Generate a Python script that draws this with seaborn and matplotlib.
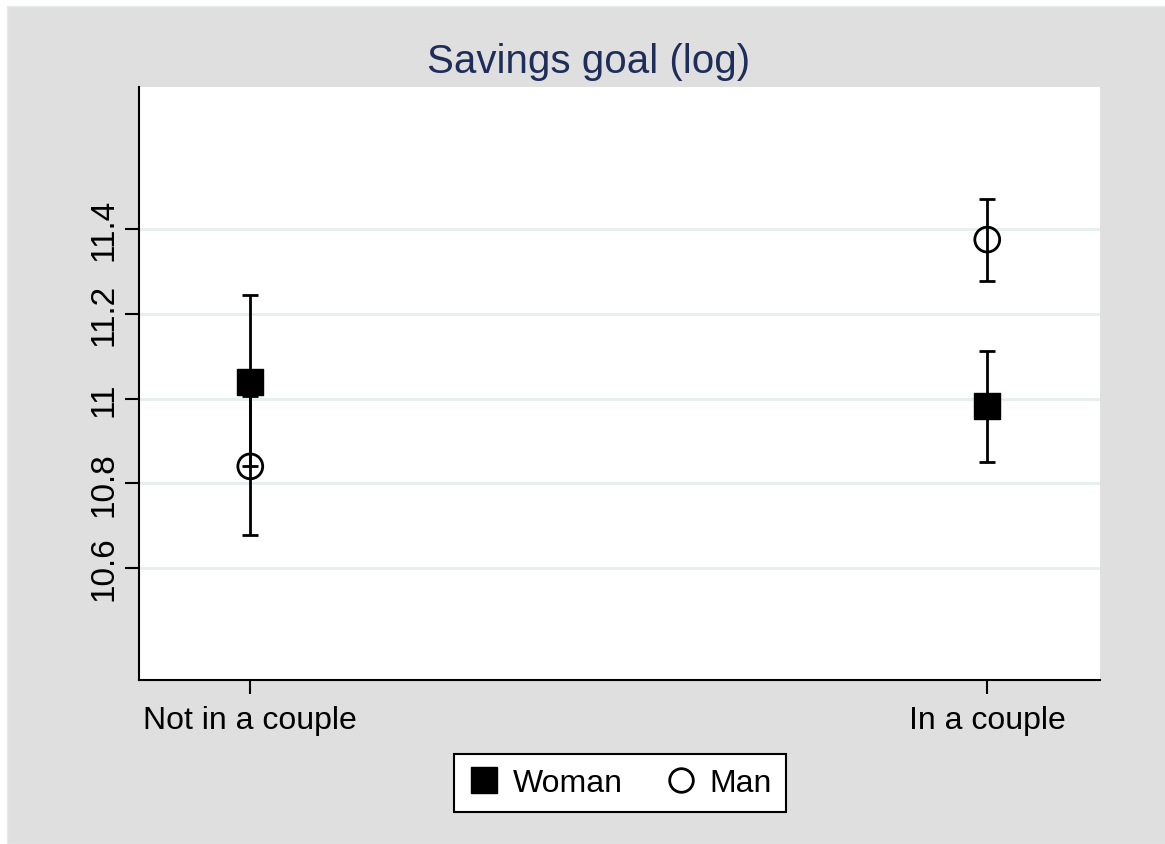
"""
Savings goal (log) by couple status and gender
"""
import matplotlib
matplotlib.use('Agg')
import matplotlib.pyplot as plt
from matplotlib.patches import Rectangle
from matplotlib.lines import Line2D
import seaborn as sns
import pandas as pd

# Data
categories = ['Not in a couple', 'In a couple']
woman_mean = [11.04, 10.983]
woman_low = [10.84, 10.851]
woman_high = [11.244, 11.113]
man_mean = [10.84, 11.375]
man_low = [10.678, 11.277]
man_high = [11.007, 11.471]
y_ticks = [10.6, 10.8, 11.0, 11.2, 11.4]
y_tick_labels = ['10.6', '10.8', '11', '11.2', '11.4']

df = pd.DataFrame({
    'couple': categories * 2,
    'x': [0, 1, 0, 1],
    'gender': ['Woman'] * 2 + ['Man'] * 2,
    'mean': woman_mean + man_mean,
    'low': woman_low + man_low,
    'high': woman_high + man_high,
})

sns.set_theme(style='white')
plt.rcParams['font.family'] = ['Liberation Sans', 'DejaVu Sans']
plt.rcParams['text.color'] = 'black'
plt.rcParams['xtick.color'] = 'black'
plt.rcParams['ytick.color'] = 'black'

W, H = 1165, 845
fig = plt.figure(figsize=(W / 100, H / 100), dpi=100, facecolor='white')
bg = Rectangle((7 / W, 0), 1, 1 - 7 / H, transform=fig.transFigure,
               facecolor='#dfdfdf', edgecolor='#e6ecec', lw=1, zorder=-10)
fig.patches.append(bg)

ax = fig.add_axes([139 / W, 1 - 681 / H, (1100 - 139) / W, (681 - 88) / H])
ax.set_facecolor('white')

# Confidence intervals
for _, r in df.iterrows():
    ax.errorbar(r['x'], r['mean'], yerr=[[r['mean'] - r['low']], [r['high'] - r['mean']]],
                fmt='none', ecolor='black', elinewidth=2, capsize=6, capthick=2, zorder=2)

# Point estimates
sns.scatterplot(data=df[df['gender'] == 'Woman'], x='x', y='mean', marker='s',
                s=360, color='black', edgecolor='black', linewidth=1, ax=ax, zorder=3, legend=False)
sns.scatterplot(data=df[df['gender'] == 'Man'], x='x', y='mean', marker='o',
                s=320, facecolor='none', edgecolor='black', linewidth=2, ax=ax, zorder=3, legend=False)

ax.set_xlim(-0.151, 1.153)
ax.set_ylim(10.336, 11.735)
ax.set_xticks([0, 1])
ax.set_xticklabels(categories, fontsize=23)
ax.set_yticks(y_ticks)
ax.set_yticklabels(y_tick_labels, fontsize=24, rotation=90, va='center')
ax.set_xlabel('')
ax.set_ylabel('')
ax.tick_params(axis='both', direction='out', length=10, width=1.5, colors='black',
               left=True, bottom=True, pad=8)
ax.tick_params(axis='y', pad=4)
ax.grid(axis='y', color='#e6eeee', linewidth=2)
ax.set_axisbelow(True)
for side in ['top', 'right']:
    ax.spines[side].set_visible(False)
for side in ['left', 'bottom']:
    ax.spines[side].set_color('black')
    ax.spines[side].set_linewidth(1.5)

fig.text(589 / W, 1 - 62 / H, 'Savings goal (log)', fontsize=29, color='#1e2d5a',
         ha='center', va='center')

handles = [
    Line2D([], [], marker='s', color='black', linestyle='none', markersize=18.5),
    Line2D([], [], marker='o', markerfacecolor='none', markeredgecolor='black',
           markeredgewidth=2, linestyle='none', markersize=17),
]
leg = fig.legend(handles, ['Woman', 'Man'], loc='center', bbox_to_anchor=(620 / W, 1 - 784 / H),
                 ncol=2, fontsize=23, frameon=True, fancybox=False, handletextpad=0.4,
                 columnspacing=1.3, borderpad=0.45, handlelength=1.0)
leg.get_frame().set_edgecolor('black')
leg.get_frame().set_linewidth(1.5)
leg.get_frame().set_facecolor('white')
leg.get_frame().set_alpha(1)

plt.savefig('out.png', dpi=100, facecolor=fig.get_facecolor())
plt.close()
